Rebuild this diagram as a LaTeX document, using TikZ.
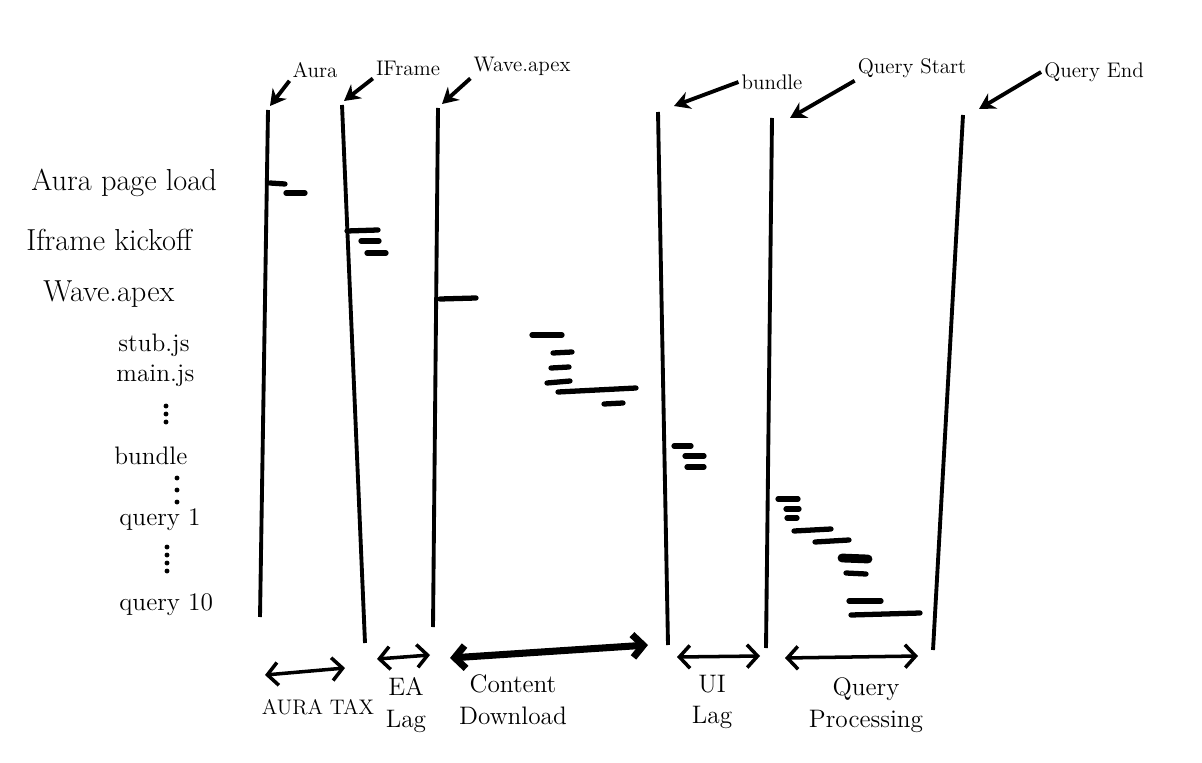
\documentclass[tikz,border=0pt]{standalone}
\usetikzlibrary{arrows.meta}
\usetikzlibrary{positioning}
\tikzset{
	every path/.style={line width=1.6pt},
	timeline/.style={draw, line width=2.2pt},
	pointer/.style={
		draw,
		line width=2.2pt,
		-{Stealth[length=9pt,width=10pt]}
	},
	task/.style={draw, line width=3pt, line cap=round},
	span/.style={
		draw,
		line width=2pt,
		{Straight Barb[length=6pt,width=13pt]}-{Straight Barb[length=6pt,width=13pt]}
	},
	marker/.style={font=\large, inner sep=1pt},
	rowlabel/.style={font=\Large, anchor=west, inner sep=0pt},
	gap/.style={fill, radius=1.4pt},
	phase/.style={font=\Large, align=center, inner sep=1pt},
}
\begin{document}
\begin{tikzpicture}[x=0.02cm, y=-0.02cm]
	\useasboundingbox (0,0) rectangle (1202,763);

	% time markers
	\coordinate (auraT)  at (268,110);  \coordinate (auraB)  at (260,617);
	\coordinate (ifrT)   at (342,105);  \coordinate (ifrB)   at (365,643);
	\coordinate (waveT)  at (438,108);  \coordinate (waveB)  at (433,627);
	\coordinate (bndT)   at (658,112);  \coordinate (bndB)   at (668,645);
	\coordinate (qsT)    at (772,118);  \coordinate (qsB)    at (766,648);
	\coordinate (qeT)    at (963,115);  \coordinate (qeB)    at (933,650);

	\draw[timeline] (auraT) -- (auraB);
	\draw[timeline] (ifrT) -- (ifrB);
	\draw[timeline] (waveT) -- (waveB);
	\draw[timeline] (bndT) -- (bndB);
	\draw[timeline] (qsT) -- (qsB);
	\draw[timeline] (qeT) -- (qeB);

	\node[marker]  (aura) at (315,70) {Aura};
	\node[marker]  (ifr)  at (408,68) {IFrame};
	\node[marker]  (wave) at (522,66) {Wave.apex};
	\node[marker]  (bnd)  at (772,82) {bundle};
	\node[marker]  (qs)   at (912,68) {Query Start};
	\node[marker]  (qe)   at (1094,72) {Query End};

	\draw[pointer] (aura.south west) -- ([shift={(2,-4)}]auraT);
	\draw[pointer] (ifr.south west) -- ([shift={(2,-4)}]ifrT);
	\draw[pointer] (wave.south west) -- ([shift={(4,-4)}]waveT);
	\draw[pointer] (bnd.west) -- ([shift={(16,-6)}]bndT);
	\draw[pointer] (qs.south west) -- ([shift={(18,0)}]qsT);
	\draw[pointer] (qe.west) -- ([shift={(16,-6)}]qeT);

	% rows
	\node[rowlabel, font=\LARGE] (rAura) at (30,183) {Aura page load};
	\node[rowlabel, font=\LARGE] (rIfr)  at (25,240) {Iframe kickoff};
	\node[rowlabel, font=\LARGE] (rWave) at (42,294) {Wave.apex};
	\node[rowlabel] (rStub)  at (117,345) {stub.js};
	\node[rowlabel] (rMain)  at (115,376) {main.js};
	\node[rowlabel] (rBnd)   at (113,456) {bundle};
	\node[rowlabel] (rQ1)    at (118,520) {query 1};
	\node[rowlabel] (rQ10)   at (118,605) {query 10};

	\foreach \y in {406,414,422} \fill[gap] (166,\y) circle;
	\foreach \y in {478,490,502} \fill[gap] (177,\y) circle;
	\foreach \y in {547,555,563,571} \fill[gap] (167,\y) circle;

	% requests
	\draw[task] (270,183) -- (285,184);
	\draw[task] (286,193) -- (305,193);
	\draw[task] (347,231) -- (378,230);
	\draw[task] (361,241) -- (379,241);
	\draw[task] (367,253) -- (386,253);
	\draw[task] (440,299) -- (476,298);
	\draw[task] (532,335) -- (562,335);
	\draw[task] (553,353) -- (572,352);
	\draw[task] (551,368) -- (569,367);
	\draw[task] (547,383) -- (570,381);
	\draw[task] (558,392) -- (636,388);
	\draw[task] (604,404) -- (623,403);
	\draw[task] (674,446) -- (691,446);
	\draw[task] (685,456) -- (704,456);
	\draw[task] (687,467) -- (704,467);
	\draw[task] (778,499) -- (798,499);
	\draw[task] (786,509) -- (799,509);
	\draw[task] (787,518) -- (797,518);
	\draw[task] (794,531) -- (831,529);
	\draw[task] (815,542) -- (849,540);
	\draw[task, line width=5pt] (842,558) -- (868,559);
	\draw[task] (846,573) -- (866,574);
	\draw[task] (849,601) -- (881,601);
	\draw[task] (851,615) -- (920,613);

	% phases
	\coordinate (tax1) at (265,675);  \coordinate (tax2) at (345,668);
	\coordinate (ea1)  at (377,659);  \coordinate (ea2)  at (430,655);
	\coordinate (cd1)  at (450,658);  \coordinate (cd2)  at (648,645);
	\coordinate (ui1)  at (677,657);  \coordinate (ui2)  at (760,656);
	\coordinate (qp1)  at (785,658);  \coordinate (qp2)  at (918,656);

	\draw[span] (tax1) -- (tax2);
	\draw[span] (ea1) -- (ea2);
	\draw[span, line width=4pt] (cd1) -- (cd2);
	\draw[span] (ui1) -- (ui2);
	\draw[span] (qp1) -- (qp2);

	\node[phase, font=\large] (pTax) at (318,707) {AURA TAX};
	\node[phase] (pEa)  at (406,705) {EA\\Lag};
	\node[phase] (pCd)  at (513,700) {Content\\Download};
	\node[phase] (pUi)  at (712,702) {UI\\Lag};
	\node[phase] (pQp)  at (866,705) {Query\\Processing};
\end{tikzpicture}
\end{document}
